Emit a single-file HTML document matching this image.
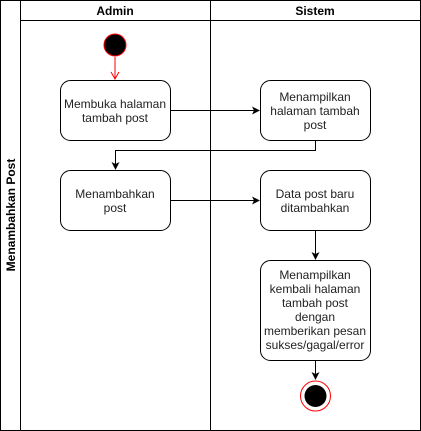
<!DOCTYPE html>
<html><head><meta charset="utf-8"><style>body{margin:0;background:#fff}svg{display:block}</style></head><body>
<svg width="421" height="431" viewBox="0 0 421 431" xmlns="http://www.w3.org/2000/svg" font-family="Liberation Sans, Arial, sans-serif">
<defs><marker id="a" markerWidth="10" markerHeight="10" refX="7" refY="4" orient="auto" markerUnits="userSpaceOnUse"><path d="M0,0 L8,4 L0,8 L2,4 z" fill="#000"/></marker></defs>
<rect x="0.5" y="0.5" width="420" height="430" fill="#fff" stroke="#000"/>
<line x1="20.5" y1="0" x2="20.5" y2="431" stroke="#000"/>
<line x1="20" y1="20.5" x2="421" y2="20.5" stroke="#000"/>
<line x1="210.5" y1="0" x2="210.5" y2="431" stroke="#000"/>
<text x="115" y="15" font-size="12" font-weight="bold" text-anchor="middle">Admin</text>
<text x="315" y="15" font-size="12" font-weight="bold" text-anchor="middle">Sistem</text>
<text transform="translate(15,215) rotate(-90)" font-size="12" font-weight="bold" text-anchor="middle">Menambahkan Post</text>
<circle cx="115" cy="45" r="11" fill="#000" stroke="#f00"/>
<line x1="115" y1="57" x2="115" y2="78" stroke="#f00"/>
<path d="M111,72 L115,79 L119,72" fill="none" stroke="#f00"/>
<g fill="#fff" stroke="#000">
<rect x="60.5" y="80.5" width="110" height="60" rx="10"/>
<rect x="260.5" y="80.5" width="110" height="60" rx="10"/>
<rect x="60.5" y="170.5" width="110" height="60" rx="10"/>
<rect x="260.5" y="170.5" width="110" height="60" rx="10"/>
<rect x="260.5" y="260.5" width="110" height="100" rx="10"/>
</g>
<g stroke="#000" fill="none" marker-end="url(#a)">
<path d="M170.5,110.5 H259"/>
<path d="M315.5,140.5 V150.5 H115.5 V169"/>
<path d="M170.5,200.5 H259"/>
<path d="M315.5,230.5 V259"/>
<path d="M315.5,360.5 V379"/>
</g>
<circle cx="315.5" cy="396" r="15" fill="#fff" stroke="#f00"/>
<circle cx="315.5" cy="396" r="11" fill="#000"/>
<g font-size="12" fill="#222" text-anchor="middle">
<text x="115" y="108">Membuka halaman</text><text x="115" y="122">tambah post</text>
<text x="315" y="101">Menampilkan</text><text x="315" y="115">halaman tambah</text><text x="315" y="129">post</text>
<text x="115" y="198">Menambahkan</text><text x="115" y="212">post</text>
<text x="315" y="198">Data post baru</text><text x="315" y="212">ditambahkan</text>
<text x="315" y="279">Menampilkan</text><text x="315" y="293">kembali halaman</text><text x="315" y="307">tambah post</text><text x="315" y="321">dengan</text><text x="315" y="335">memberikan pesan</text><text x="315" y="349">sukses/gagal/error</text>
</g>
</svg>
</body></html>
